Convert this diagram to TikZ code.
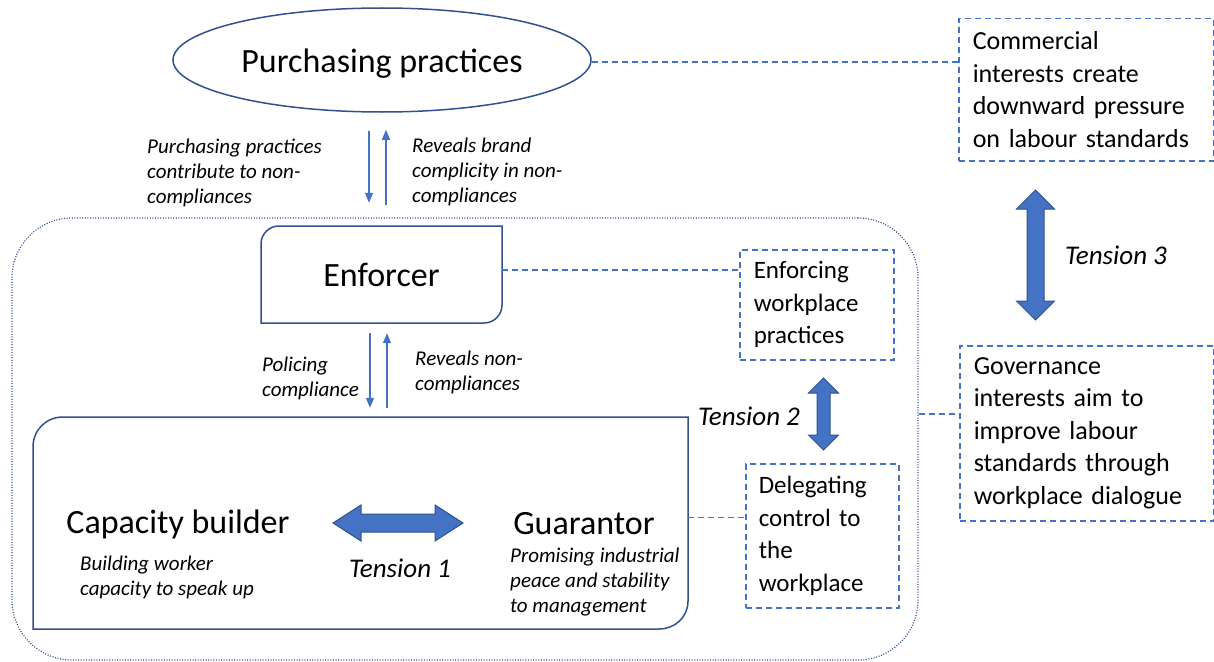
\documentclass[tikz,border=0pt]{standalone}
\usepackage{fontspec}
\setmainfont{Carlito}
\usetikzlibrary{shapes.geometric,arrows.meta}
\definecolor{dkblue}{HTML}{2F528F}
\definecolor{mdblue}{HTML}{4472C4}
\tikzset{
  outl/.style={draw=dkblue, line width=1.5pt},
  dashbox/.style={draw=mdblue, dash pattern=on 6pt off 4pt, line width=1.5pt,
    align=left, inner xsep=14pt, inner ysep=0pt, anchor=north west},
  dashlink/.style={draw=mdblue, dash pattern=on 6pt off 4pt, line width=1.5pt},
  thinarrow/.style={draw=mdblue, line width=1.5pt, -{Triangle[length=10pt,width=8pt]}},
  note/.style={font=\fontsize{21}{25}\selectfont\itshape, align=left, anchor=west, inner sep=0pt},
  bigtext/.style={font=\fontsize{34}{40}\selectfont},
  midtext/.style={font=\fontsize{25}{32.5}\selectfont},
  sidetext/.style={font=\fontsize{26}{32.5}\selectfont},
  tensiontext/.style={font=\fontsize{27}{30}\selectfont\itshape, inner sep=0pt},
  blockarrow/.style={fill=mdblue, draw=dkblue, line width=1pt, line join=miter},
}
\begin{document}
\begin{tikzpicture}[x=1pt,y=-1pt]
\useasboundingbox (0,0) rectangle (1214,661);

% dotted frame around the workplace roles
\node[draw=dkblue, line width=1.2pt, dash pattern=on 1pt off 1.6pt, rounded corners=60pt,
  minimum width=906pt, minimum height=442pt, inner sep=0pt] (frame) at (465,439) {};

% purchasing practices
\node[ellipse, outl, bigtext, minimum width=418pt, minimum height=104pt, inner sep=0pt,
  text height=26pt, text depth=2pt]
  (pp) at (382,60) {Purchasing practices};

% enforcer box (rounded on two diagonal corners)
\node[bigtext, minimum width=241pt, minimum height=97pt, inner sep=0pt] (enf) at (381.5,274.5) {Enforcer};
\draw[outl] (261,323) -- (261,244) .. controls (261,234) and (269,226) .. (279,226)
  -- (502,226) -- (502,305) .. controls (502,315) and (494,323) .. (484,323) -- cycle;

% capacity builder / guarantor box
\node[minimum width=655pt, minimum height=212pt, inner sep=0pt] (grp) at (360.5,523) {};
\draw[outl] (33,629) -- (33,447) .. controls (33,430) and (46,417) .. (63,417)
  -- (688,417) -- (688,601) .. controls (688,617) and (675,629) .. (659,629) -- cycle;

\node[bigtext] (cap) at (178,524) {Capacity builder};
\node[bigtext] (guar) at (584,524) {Guarantor};
\node[note] (capn) at (80,577) {Building worker\\capacity to speak up};
\node[note] (guarn) at (510,582) {Promising industrial\\peace and stability\\to management};

% dashed boxes
\node[dashbox, midtext, text width=126pt, minimum height=110pt] (enfp) at (739,249)
  {Enforcing\\workplace\\practices};
\node[dashbox, midtext, text width=127pt, minimum height=144pt, inner xsep=13pt] (deleg) at (745,463)
  {Delegating\\control to\\the\\workplace};
\node[dashbox, sidetext, text width=227pt, minimum height=142pt] (comm) at (958,18)
  {Commercial\\interests create\\downward pressure\\on labour standards};
\node[dashbox, sidetext, text width=226pt, minimum height=175pt] (gov) at (959,345)
  {Governance\\interests aim to\\improve labour\\standards through\\workplace dialogue};

% dashed links
\draw[dashlink] ([yshift=-2pt]pp.east) -- ([yshift=-2pt]pp.east -| comm.west);
\draw[dashlink] ([yshift=4.5pt]enf.east) -- ([yshift=4.5pt]enf.east -| enfp.west);
\draw[dashlink] ([yshift=5.5pt]grp.east) -- ([yshift=5.5pt]grp.east -| deleg.west);
\draw[dashlink] ([yshift=19.5pt]gov.west -| frame.east) -- ([yshift=19.5pt]gov.west);

% thin arrows between levels
\draw[thinarrow] ([xshift=-13pt,yshift=-18pt]pp.south) -- ([xshift=-12.5pt,yshift=23pt]enf.north);
\draw[thinarrow] ([xshift=4.5pt,yshift=21pt]enf.north) -- ([xshift=4pt,yshift=-17pt]pp.south);
\draw[thinarrow] ([xshift=-11.5pt,yshift=-10pt]enf.south) -- ([xshift=9.5pt,yshift=9pt]grp.north);
\draw[thinarrow] ([xshift=26.5pt,yshift=9pt]grp.north) -- ([xshift=5.5pt,yshift=-10pt]enf.south);

\node[note] (n1) at (147,173) {Purchasing practices\\contribute to non-\\compliances};
\node[note] (n2) at (412,172) {Reveals brand\\complicity in non-\\compliances};
\node[note] (n3) at (262,378) {Policing\\compliance};
\node[note] (n4) at (415,372) {Reveals non-\\compliances};

% tension arrows
\draw[blockarrow] (333,523) -- (361,505) -- (361,514) -- (435,514) -- (435,505) -- (463,523)
  -- (435,541) -- (435,532) -- (361,532) -- (361,541) -- cycle;
\draw[blockarrow] (823.5,378) -- (838.5,393) -- (830,393) -- (830,435) -- (838.5,435) -- (823.5,450)
  -- (808.5,435) -- (817,435) -- (817,393) -- (808.5,393) -- cycle;
\draw[blockarrow] (1035.5,190) -- (1054.5,209) -- (1044,209) -- (1044,301) -- (1054.5,301) -- (1035.5,320)
  -- (1016.5,301) -- (1027,301) -- (1027,209) -- (1016.5,209) -- cycle;

\node[tensiontext] (t1) at (400,568) {Tension 1};
\node[tensiontext] (t2) at (749,416) {Tension 2};
\node[tensiontext] (t3) at (1116,255) {Tension 3};
\end{tikzpicture}
\end{document}
